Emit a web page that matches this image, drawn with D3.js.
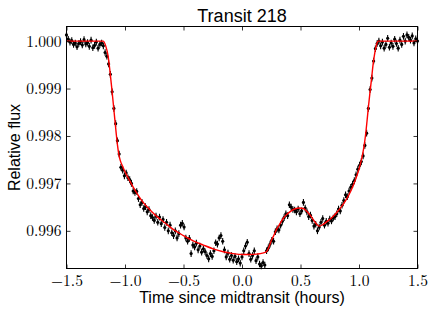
<!DOCTYPE html>
<html>
<head>
<meta charset="utf-8">
<script src="https://cdn.jsdelivr.net/npm/d3@7"></script>
<style>
  body { margin: 0; background: #fff; }
  svg { display: block; }
</style>
</head>
<body>
<div id="chart"></div>
<script>
// observed points, [time (hours), relative flux]
const observed = [
  [-1.500, 1.00013], [-1.485, 1.00004], [-1.470, 0.99998], [-1.455, 1.00001], [-1.440, 0.99993],
  [-1.425, 0.99996], [-1.410, 0.99988], [-1.395, 0.99995], [-1.380, 0.99999], [-1.365, 0.99992],
  [-1.350, 1.00003], [-1.335, 0.99994], [-1.320, 0.99997], [-1.305, 0.99989], [-1.290, 1.00002],
  [-1.275, 0.99986], [-1.260, 0.99991], [-1.245, 0.99998], [-1.230, 0.99985], [-1.215, 0.99993],
  [-1.200, 0.99996], [-1.185, 0.99990], [-1.170, 0.99976], [-1.155, 0.99968], [-1.140, 0.99952],
  [-1.125, 0.99930], [-1.110, 0.99893], [-1.095, 0.99858], [-1.080, 0.99826], [-1.065, 0.99790],
  [-1.050, 0.99762], [-1.035, 0.99734], [-1.020, 0.99728], [-1.005, 0.99716], [-0.990, 0.99722],
  [-0.975, 0.99712], [-0.960, 0.99708], [-0.945, 0.99700], [-0.930, 0.99684], [-0.915, 0.99681],
  [-0.900, 0.99683], [-0.885, 0.99668], [-0.870, 0.99655], [-0.855, 0.99660], [-0.840, 0.99647],
  [-0.825, 0.99651], [-0.810, 0.99640], [-0.795, 0.99645], [-0.780, 0.99632], [-0.765, 0.99628],
  [-0.750, 0.99622], [-0.735, 0.99631], [-0.720, 0.99618], [-0.705, 0.99629], [-0.690, 0.99615],
  [-0.675, 0.99624], [-0.660, 0.99607], [-0.645, 0.99618], [-0.630, 0.99600], [-0.615, 0.99612],
  [-0.600, 0.99596], [-0.585, 0.99590], [-0.570, 0.99600], [-0.555, 0.99585], [-0.540, 0.99594],
  [-0.525, 0.99612], [-0.510, 0.99616], [-0.495, 0.99608], [-0.480, 0.99585], [-0.465, 0.99578],
  [-0.450, 0.99584], [-0.435, 0.99552], [-0.420, 0.99570], [-0.405, 0.99566], [-0.390, 0.99574],
  [-0.375, 0.99560], [-0.360, 0.99568], [-0.345, 0.99555], [-0.330, 0.99562], [-0.315, 0.99556],
  [-0.300, 0.99548], [-0.285, 0.99541], [-0.270, 0.99552], [-0.255, 0.99546], [-0.240, 0.99558],
  [-0.225, 0.99575], [-0.210, 0.99572], [-0.195, 0.99585], [-0.180, 0.99590], [-0.165, 0.99578],
  [-0.150, 0.99560], [-0.135, 0.99545], [-0.120, 0.99553], [-0.105, 0.99540], [-0.090, 0.99548],
  [-0.075, 0.99538], [-0.060, 0.99546], [-0.045, 0.99535], [-0.030, 0.99541], [-0.015, 0.99532],
  [0.000, 0.99545], [0.015, 0.99558], [0.030, 0.99568], [0.045, 0.99576], [0.060, 0.99552],
  [0.075, 0.99540], [0.090, 0.99548], [0.105, 0.99558], [0.120, 0.99537], [0.135, 0.99545],
  [0.150, 0.99530], [0.165, 0.99526], [0.180, 0.99533], [0.195, 0.99528], [0.210, 0.99558],
  [0.225, 0.99564], [0.240, 0.99572], [0.255, 0.99580], [0.270, 0.99578], [0.285, 0.99598],
  [0.300, 0.99604], [0.315, 0.99602], [0.330, 0.99612], [0.345, 0.99620], [0.360, 0.99628],
  [0.375, 0.99636], [0.390, 0.99632], [0.405, 0.99655], [0.420, 0.99650], [0.435, 0.99645],
  [0.450, 0.99644], [0.465, 0.99640], [0.480, 0.99646], [0.495, 0.99636], [0.510, 0.99642],
  [0.525, 0.99660], [0.540, 0.99648], [0.555, 0.99640], [0.570, 0.99630], [0.585, 0.99633],
  [0.600, 0.99622], [0.615, 0.99610], [0.630, 0.99614], [0.645, 0.99600], [0.660, 0.99608],
  [0.675, 0.99618], [0.690, 0.99626], [0.705, 0.99612], [0.720, 0.99620], [0.735, 0.99616],
  [0.750, 0.99625], [0.765, 0.99621], [0.780, 0.99627], [0.795, 0.99630], [0.810, 0.99636],
  [0.825, 0.99646], [0.840, 0.99642], [0.855, 0.99654], [0.870, 0.99664], [0.885, 0.99676],
  [0.900, 0.99672], [0.915, 0.99684], [0.930, 0.99692], [0.945, 0.99698], [0.960, 0.99706],
  [0.975, 0.99718], [0.990, 0.99730], [1.005, 0.99738], [1.020, 0.99746], [1.035, 0.99758],
  [1.050, 0.99780], [1.065, 0.99806], [1.080, 0.99858], [1.095, 0.99898], [1.110, 0.99922],
  [1.125, 0.99958], [1.140, 0.99984], [1.155, 0.99995], [1.170, 1.00000], [1.185, 0.99990],
  [1.200, 0.99998], [1.215, 0.99985], [1.230, 0.99993], [1.245, 1.00006], [1.260, 0.99987],
  [1.275, 0.99996], [1.290, 0.99989], [1.305, 1.00004], [1.320, 0.99995], [1.335, 0.99985],
  [1.350, 1.00002], [1.365, 0.99993], [1.380, 1.00010], [1.395, 1.00000], [1.410, 1.00013],
  [1.425, 1.00008], [1.440, 1.00002], [1.455, 1.00011], [1.470, 0.99996], [1.485, 1.00005],
  [1.500, 1.00000]
];
const fluxError = 0.00007;

// fitted model (red line)
const model = [
  [-1.500, 1.00000], [-1.187, 1.00000], [-1.165, 0.99990], [-1.144, 0.99968], [-1.130, 0.99940],
  [-1.115, 0.99905], [-1.100, 0.99868], [-1.087, 0.99835], [-1.075, 0.99805], [-1.064, 0.99780],
  [-1.052, 0.99760], [-1.040, 0.99748], [-1.020, 0.99736], [-1.001, 0.99725], [-0.965, 0.99708],
  [-0.930, 0.99692], [-0.890, 0.99676], [-0.845, 0.99660], [-0.790, 0.99645], [-0.731, 0.99631],
  [-0.660, 0.99617], [-0.588, 0.99603], [-0.500, 0.99590], [-0.417, 0.99579], [-0.330, 0.99570],
  [-0.246, 0.99562], [-0.160, 0.99556], [-0.076, 0.99552], [0.010, 0.99550], [0.070, 0.99550],
  [0.124, 0.99551], [0.175, 0.99553], [0.209, 0.99556], [0.230, 0.99566], [0.252, 0.99580],
  [0.275, 0.99592], [0.295, 0.99603], [0.322, 0.99614], [0.352, 0.99626], [0.380, 0.99634],
  [0.409, 0.99640], [0.450, 0.99646], [0.494, 0.99648], [0.525, 0.99647], [0.551, 0.99642],
  [0.580, 0.99634], [0.608, 0.99624], [0.635, 0.99615], [0.659, 0.99610], [0.690, 0.99613],
  [0.722, 0.99619], [0.765, 0.99627], [0.808, 0.99638], [0.850, 0.99651], [0.893, 0.99667],
  [0.930, 0.99684], [0.964, 0.99704], [0.995, 0.99726], [1.021, 0.99750], [1.040, 0.99774],
  [1.055, 0.99800], [1.068, 0.99830], [1.080, 0.99860], [1.093, 0.99890], [1.107, 0.99920],
  [1.120, 0.99950], [1.135, 0.99975], [1.150, 0.99993], [1.164, 1.00000], [1.500, 1.00000]
];

const xTicks = [-1.5, -1.0, -0.5, 0.0, 0.5, 1.0, 1.5];
const yTicks = [0.996, 0.997, 0.998, 0.999, 1.000];

const width = 436, height = 314;
const margin = {top: 26.5, right: 18.5, bottom: 45.5, left: 66.5};

const svg = d3.select("#chart").append("svg")
  .attr("width", width)
  .attr("height", height);

const x = d3.scaleLinear()
  .domain([-1.5, 1.5])
  .range([margin.left, width - margin.right]);

const y = d3.scaleLinear()
  .domain([0.995206, 1.000308])
  .range([height - margin.bottom, margin.top]);

const fmt = d => d3.format(".1f")(d).replace("-", "\u2212");

// error bars + points
const pts = svg.append("g");
pts.selectAll("line")
  .data(observed)
  .join("line")
  .attr("x1", d => x(d[0]))
  .attr("x2", d => x(d[0]))
  .attr("y1", d => y(d[1] - fluxError))
  .attr("y2", d => y(d[1] + fluxError))
  .attr("stroke", "#000")
  .attr("stroke-width", 1.1);
pts.selectAll("circle")
  .data(observed)
  .join("circle")
  .attr("cx", d => x(d[0]))
  .attr("cy", d => y(d[1]))
  .attr("r", 1.6)
  .attr("fill", "#000");

// model line
svg.append("path")
  .datum(model)
  .attr("fill", "none")
  .attr("stroke", "#ff0000")
  .attr("stroke-width", 1.4)
  .attr("d", d3.line().x(d => x(d[0])).y(d => y(d[1])).curve(d3.curveMonotoneX));

// axes, inward ticks on all sides like matplotlib
const tick = 4;
svg.append("g")
  .attr("transform", `translate(0,${height - margin.bottom})`)
  .call(d3.axisBottom(x).tickValues(xTicks).tickSizeInner(-tick).tickSizeOuter(0).tickFormat(fmt))
  .call(g => g.select(".domain").remove())
  .call(g => g.selectAll("text").attr("dy", 0).attr("y", 17));
svg.append("g")
  .attr("transform", `translate(0,${margin.top})`)
  .call(d3.axisTop(x).tickValues(xTicks).tickSizeInner(-tick).tickSizeOuter(0).tickFormat(""))
  .call(g => g.select(".domain").remove());
svg.append("g")
  .attr("transform", `translate(${margin.left},0)`)
  .call(d3.axisLeft(y).tickValues(yTicks).tickSizeInner(-tick).tickSizeOuter(0).tickFormat(d3.format(".3f")))
  .call(g => g.select(".domain").remove())
  .call(g => g.selectAll("text").attr("x", -5));
svg.append("g")
  .attr("transform", `translate(${width - margin.right},0)`)
  .call(d3.axisRight(y).tickValues(yTicks).tickSizeInner(-tick).tickSizeOuter(0).tickFormat(""))
  .call(g => g.select(".domain").remove());

svg.selectAll(".tick text")
  .attr("font-family", "'Latin Modern Roman', 'Liberation Serif', serif")
  .attr("font-size", 15.5)
  .attr("fill", "#000");
svg.selectAll(".tick line").attr("stroke", "#000").attr("stroke-width", 0.8);

// frame
svg.append("rect")
  .attr("x", margin.left)
  .attr("y", margin.top)
  .attr("width", width - margin.left - margin.right)
  .attr("height", height - margin.top - margin.bottom)
  .attr("fill", "none")
  .attr("stroke", "#000")
  .attr("stroke-width", 1);

// labels
svg.append("text")
  .attr("x", (margin.left + width - margin.right) / 2)
  .attr("y", 21.5)
  .attr("text-anchor", "middle")
  .attr("font-family", "'Liberation Sans', Arial, sans-serif")
  .attr("font-size", 18)
  .text("Transit 218");

svg.append("text")
  .attr("x", (margin.left + width - margin.right) / 2)
  .attr("y", 303)
  .attr("text-anchor", "middle")
  .attr("font-family", "'Liberation Sans', Arial, sans-serif")
  .attr("font-size", 16)
  .text("Time since midtransit (hours)");

svg.append("text")
  .attr("transform", `translate(20,${(margin.top + height - margin.bottom) / 2}) rotate(-90)`)
  .attr("text-anchor", "middle")
  .attr("font-family", "'Liberation Sans', Arial, sans-serif")
  .attr("font-size", 16)
  .text("Relative flux");
</script>
</body>
</html>
